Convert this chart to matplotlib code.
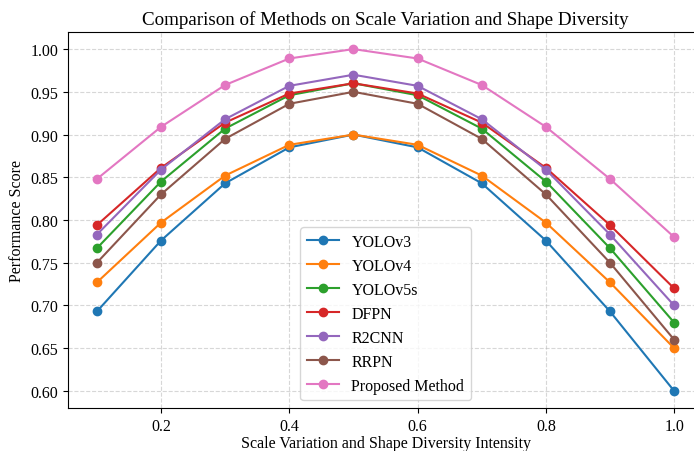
import numpy as np
import matplotlib
matplotlib.use('Agg')
import matplotlib.pyplot as plt

plt.rcParams['font.family'] = ['Liberation Serif', 'DejaVu Serif']

# data
intensity = [0.1, 0.2, 0.3, 0.4, 0.5, 0.6, 0.7, 0.8, 0.9, 1.0]
yolov3 = [0.693, 0.776, 0.843, 0.885, 0.900, 0.885, 0.843, 0.776, 0.693, 0.600]
yolov4 = [0.727, 0.797, 0.852, 0.888, 0.900, 0.888, 0.852, 0.797, 0.727, 0.650]
yolov5s = [0.767, 0.845, 0.907, 0.946, 0.960, 0.946, 0.907, 0.845, 0.767, 0.680]
dfpn = [0.794, 0.861, 0.914, 0.948, 0.960, 0.948, 0.914, 0.861, 0.794, 0.720]
r2cnn = [0.783, 0.859, 0.918, 0.957, 0.970, 0.957, 0.918, 0.859, 0.783, 0.700]
rrpn = [0.750, 0.830, 0.895, 0.936, 0.950, 0.936, 0.895, 0.830, 0.750, 0.660]
proposed = [0.848, 0.909, 0.958, 0.989, 1.000, 0.989, 0.958, 0.909, 0.848, 0.780]

names = ['YOLOv3', 'YOLOv4', 'YOLOv5s', 'DFPN', 'R2CNN', 'RRPN', 'Proposed Method']
series = [yolov3, yolov4, yolov5s, dfpn, r2cnn, rrpn, proposed]

fig = plt.figure(figsize=(6.94, 4.52), dpi=100)
ax = fig.add_axes([0.098, 0.095, 0.915, 0.832])

for name, vals in zip(names, series):
    ax.plot(intensity, vals, marker='o', markersize=6, linewidth=1.5, label=name)

ax.set_title('Comparison of Methods on Scale Variation and Shape Diversity', fontsize=13.7)
ax.set_xlabel('Scale Variation and Shape Diversity Intensity', fontsize=11.5, labelpad=1)
ax.set_ylabel('Performance Score', fontsize=11.5)
ax.tick_params(labelsize=11.5)
ax.grid(True, linestyle='--', alpha=0.5)
ax.legend(loc='lower center', fontsize=11.5)
ax.spines['right'].set_visible(False)

fig.savefig('out.png', dpi=100)
